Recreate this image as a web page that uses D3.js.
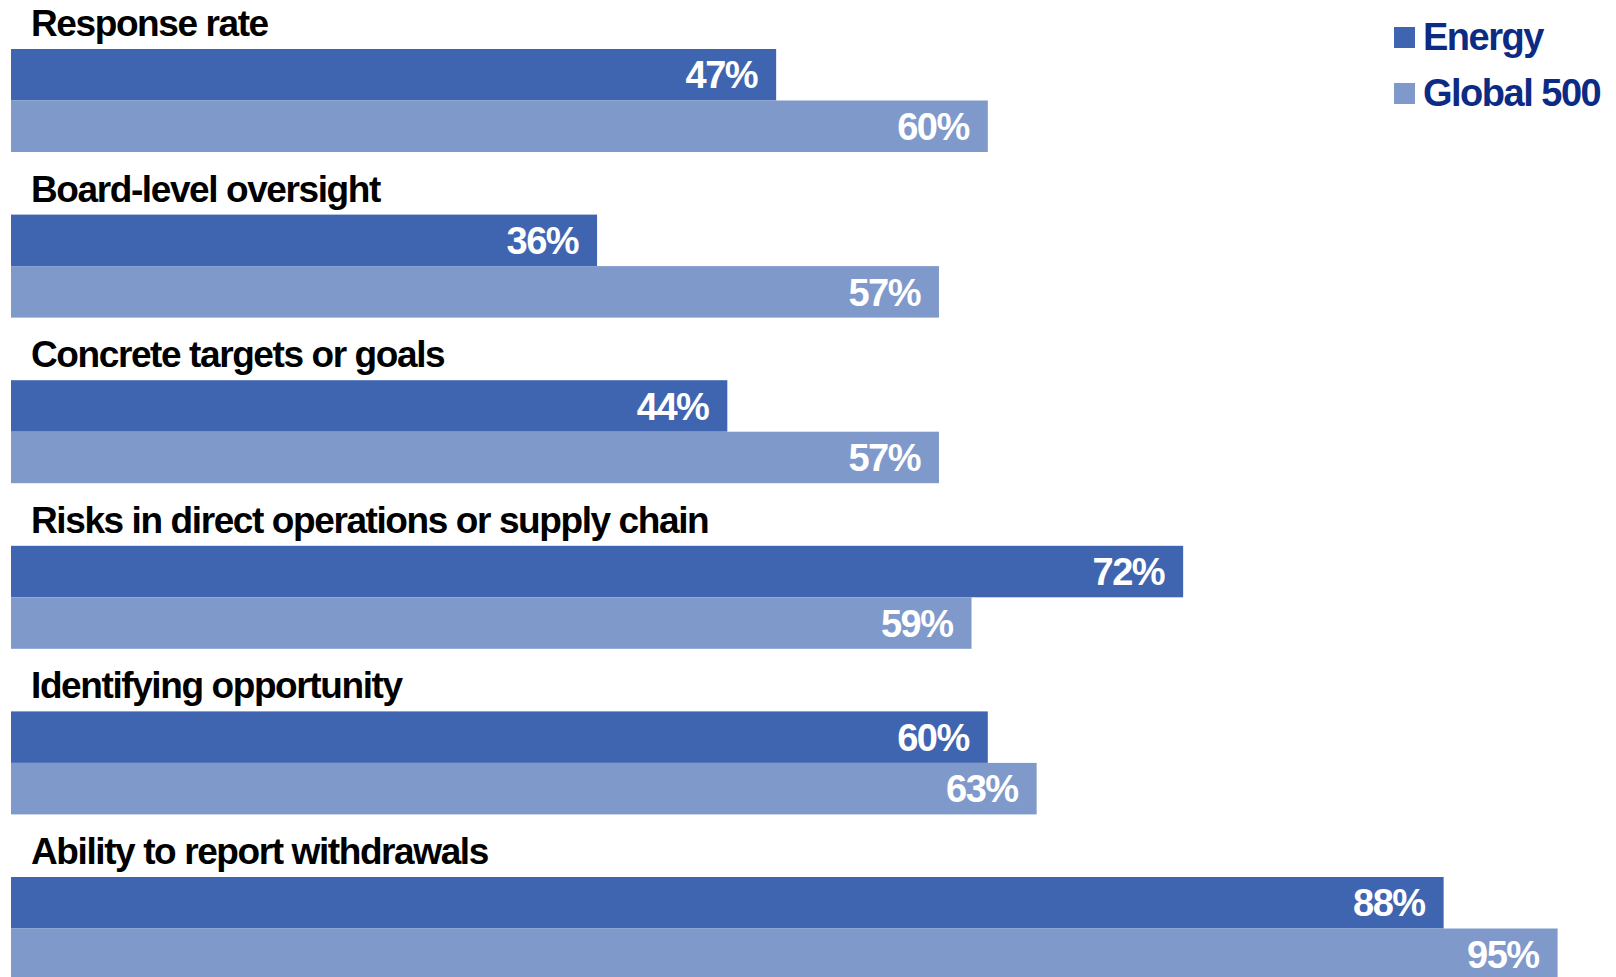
<!DOCTYPE html>
<html>
<head>
<meta charset="utf-8">
<script src="https://cdn.jsdelivr.net/npm/d3@7"></script>
<style>
  body { margin: 0; background: #fff; }
  svg { display: block; }
  text { font-family: "Liberation Sans", Arial, sans-serif; font-weight: bold; }
</style>
</head>
<body>
<div id="graph"></div>
<script>
// data
var categories = [
    "Response rate",
    "Board-level oversight",
    "Concrete targets or goals",
    "Risks in direct operations or supply chain",
    "Identifying opportunity",
    "Ability to report withdrawals"
];
var series = ["Energy", "Global 500"];
var energy = [47, 36, 44, 72, 60, 88];
var global500 = [60, 57, 57, 59, 63, 95];
var colors = ["#4065B0", "#7F99CB"];

function init() {
    var width = 1616;
    var height = 977;

    var svg = d3.select('#graph')
      .append('svg')
        .attr("width", width)
        .attr("height", height);

    var rows = categories.map(function(c, i) {
        return {cat: c, values: [
            {key: series[0], value: energy[i]},
            {key: series[1], value: global500[i]}
        ]};
    });

    // x scale in percent
    var x = d3.scaleLinear()
        .domain([0, 100])
        .range([11, 1639]);

    // one band per category
    var y = d3.scaleBand()
        .domain(categories)
        .range([49, 49 + 165.6 * categories.length]);

    // two bars inside each band
    var ySub = d3.scaleBand()
        .domain(series)
        .range([0, 103]);

    var group = svg.selectAll(".group")
        .data(rows)
        .enter().append("g")
        .attr("class", "group")
        .attr("transform", function(d) { return "translate(0," + y(d.cat) + ")"; });

    // category name above bars
    group.append("text")
        .attr("x", 31)
        .attr("y", -13)
        .attr("font-size", 37)
        .attr("letter-spacing", "-1.4px")
        .attr("fill", "#000")
        .text(function(d) { return d.cat; });

    group.selectAll("rect")
        .data(function(d) { return d.values; })
        .enter().append("rect")
        .attr("x", x(0))
        .attr("y", function(d) { return ySub(d.key); })
        .attr("width", function(d) { return x(d.value) - x(0); })
        .attr("height", ySub.bandwidth())
        .attr("fill", function(d, i) { return colors[i]; });

    // value labels inside bars
    group.selectAll(".val")
        .data(function(d) { return d.values; })
        .enter().append("text")
        .attr("class", "val")
        .attr("x", function(d) { return x(d.value) - 19; })
        .attr("y", function(d) { return ySub(d.key) + ySub.bandwidth() / 2; })
        .attr("dy", "0.36em")
        .attr("text-anchor", "end")
        .attr("font-size", 38)
        .attr("letter-spacing", "-1.5px")
        .attr("fill", "#fff")
        .text(function(d) { return d.value + "%"; });

    // legend
    var legend = svg.selectAll(".legend")
        .data(series)
        .enter().append("g")
        .attr("class", "legend")
        .attr("transform", function(d, i) { return "translate(1394," + (27 + i * 56) + ")"; });

    legend.append("rect")
        .attr("width", 21)
        .attr("height", 21)
        .attr("fill", function(d, i) { return colors[i]; });

    legend.append("text")
        .attr("x", 29)
        .attr("y", 23)
        .attr("font-size", 38)
        .attr("letter-spacing", "-1.5px")
        .attr("fill", "#0C2B84")
        .text(function(d) { return d; });
}

init();
</script>
</body>
</html>
